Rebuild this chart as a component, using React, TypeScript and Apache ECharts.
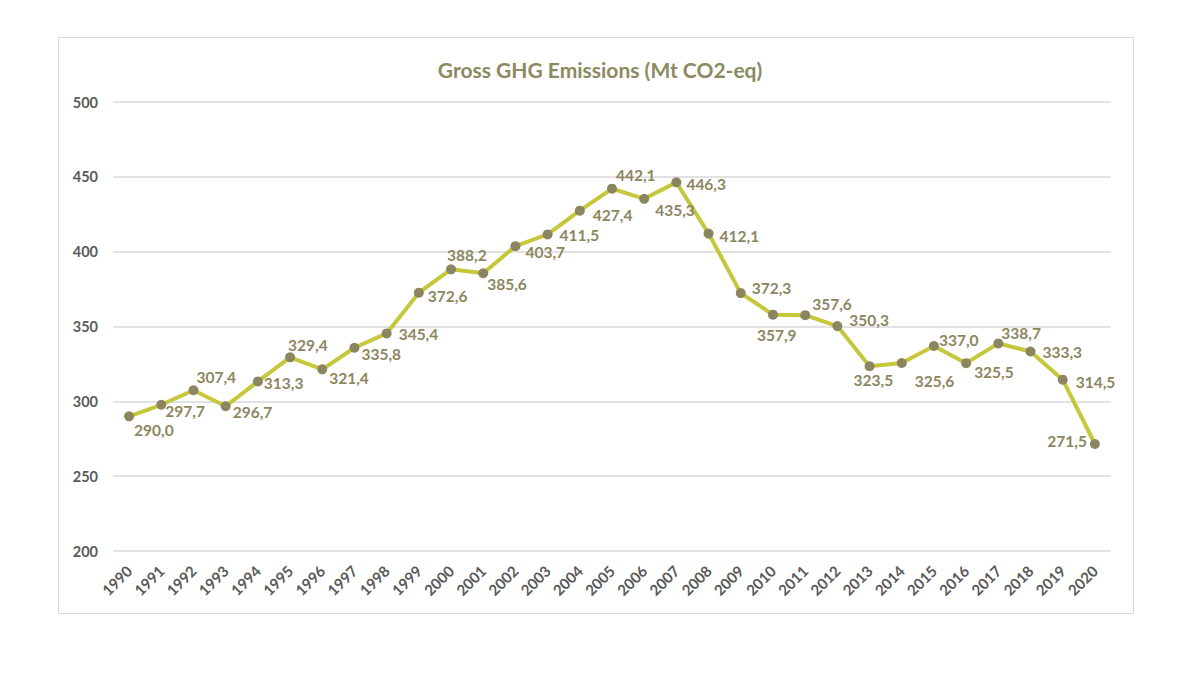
import React, { useEffect, useRef } from "react";
import * as echarts from "echarts";

const title = "Gross GHG Emissions (Mt CO2-eq)";
const years = [
  "1990", "1991", "1992", "1993", "1994", "1995", "1996", "1997", "1998", "1999",
  "2000", "2001", "2002", "2003", "2004", "2005", "2006", "2007", "2008", "2009",
  "2010", "2011", "2012", "2013", "2014", "2015", "2016", "2017", "2018", "2019", "2020",
];
const emissions = [
  290.0, 297.7, 307.4, 296.7, 313.3, 329.4, 321.4, 335.8, 345.4, 372.6,
  388.2, 385.6, 403.7, 411.5, 427.4, 442.1, 435.3, 446.3, 412.1, 372.3,
  357.9, 357.6, 350.3, 323.5, 325.6, 337.0, 325.5, 338.7, 333.3, 314.5, 271.5,
];
const yTicks = { min: 200, max: 500, interval: 50 };

// label placement (offset from the marker) – styling only
const labelOffsets: [number, number][] = [
  [5, 14], [4, 6], [3, -13], [7, 6], [6, 2], [-2, -12], [7, 9], [7, 6], [12, 1], [9, 3],
  [-4, -14], [4, 11], [10, 6], [12, 1], [13, 4], [4, -14], [11, 11], [10, 2], [11, 2], [11, -5],
  [-16, 20], [7, -11], [12, -6], [-16, 14], [13, 18], [5, -6], [8, 9], [3, -10], [12, 1], [13, 2], [-8, -3],
];

const fmt = (v: number) => v.toFixed(1).replace(".", ",");

export default function App() {
  const ref = useRef<HTMLDivElement>(null);
  useEffect(() => {
    if (!ref.current) return;
    const chart = echarts.init(ref.current, null, { renderer: "svg" });
    const font = "Lato, 'Open Sans', sans-serif";
    chart.setOption({
      animation: false,
      backgroundColor: "#ffffff",
      title: {
        text: title,
        left: 595,
        top: 54,
        textAlign: "center",
        textStyle: { color: "#8c8a60", fontSize: 21, fontWeight: "bold", fontFamily: font },
      },
      graphic: [
        {
          type: "rect",
          shape: { x: 58.5, y: 37.5, width: 1075, height: 576 },
          style: { fill: "none", stroke: "#d9d9d9", lineWidth: 1 },
          silent: true,
        },
      ],
      grid: { left: 113, right: 89, top: 102, bottom: 124 },
      xAxis: {
        type: "category",
        data: years,
        boundaryGap: true,
        axisLine: { show: false },
        axisTick: { show: false },
        axisLabel: {
          rotate: 45,
          interval: 0,
          color: "#595959",
          fontSize: 15,
          fontWeight: "bold",
          fontFamily: font,
          margin: 17,
        },
      },
      yAxis: {
        type: "value",
        min: yTicks.min,
        max: yTicks.max,
        interval: yTicks.interval,
        axisLine: { show: false },
        axisTick: { show: false },
        splitLine: { lineStyle: { color: "#d9d9d9", width: 1.5 } },
        axisLabel: {
          color: "#595959",
          fontSize: 14.5,
          fontWeight: "bold",
          fontFamily: font,
          margin: 15,
        },
      },
      series: [
        {
          type: "line",
          data: emissions.map((v, i) => ({
            value: v,
            label: {
              offset: labelOffsets[i],
              align: i === emissions.length - 1 ? "right" : "left",
            },
          })),
          lineStyle: { color: "#c4c83a", width: 4 },
          itemStyle: { color: "#8c8660" },
          symbol: "circle",
          symbolSize: 10,
          label: {
            show: true,
            position: "inside",
            verticalAlign: "middle",
            formatter: (p: any) => fmt(p.value),
            color: "#8c8660",
            fontSize: 15.5,
            fontWeight: "bold",
            fontFamily: font,
          },
          z: 3,
        },
      ],
    });
    return () => chart.dispose();
  }, []);
  return (
    <div
      ref={ref}
      style={{ position: "fixed", left: 0, top: 0, width: 1200, height: 675 }}
    />
  );
}
